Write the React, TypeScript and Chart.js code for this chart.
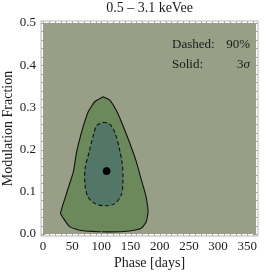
import React, { useEffect, useRef } from "react";
import { Chart, registerables } from "chart.js";

Chart.register(...registerables);

const titleText = "0.5 \u2013 3.1 keVee";
const xTitle = "Phase [days]";
const yTitle = "Modulation Fraction";
const xTicks = [0, 50, 100, 150, 200, 250, 300, 350];
const yTicks = [0.0, 0.1, 0.2, 0.3, 0.4, 0.5];

// outer (solid, 3 sigma) contour: [phase, fraction]
const outerX = [103, 114, 126, 137, 148, 160, 168, 176, 180, 177, 168, 148, 109, 63, 46, 35, 30, 37.5, 43, 52, 57.5, 66, 77, 89, 103];
const outerY = [0.325, 0.318, 0.292, 0.257, 0.218, 0.171, 0.131, 0.092, 0.053, 0.029, 0.013, 0.007, 0.005, 0.009, 0.017, 0.037, 0.049, 0.084, 0.108, 0.147, 0.194, 0.241, 0.288, 0.314, 0.325];

// inner (dashed, 90%) contour
const innerX = [103, 114, 123, 131, 136, 137, 134, 123, 106, 89, 77, 72, 72, 79, 86, 92, 103];
const innerY = [0.265, 0.261, 0.241, 0.202, 0.163, 0.123, 0.092, 0.072, 0.067, 0.072, 0.088, 0.116, 0.155, 0.194, 0.233, 0.257, 0.265];

const bestX = [109];
const bestY = [0.149];

const legendLines = [
  { label: "Dashed:", value: "90%" },
  { label: "Solid:", value: "3\u03c3" },
];

const SERIF = "'Liberation Serif', 'Times New Roman', serif";
const BG = "#989f86";
const OUTER = "#6b895b";
const INNER = "#527768";

const pts = (xs: number[], ys: number[]) => xs.map((x, i) => ({ x, y: ys[i] }));

const decorPlugin = {
  id: "decor",
  beforeDatasetsDraw(chart: any) {
    const { ctx, chartArea: a } = chart;
    ctx.save();
    ctx.fillStyle = BG;
    ctx.fillRect(a.left, a.top, a.right - a.left, a.bottom - a.top);
    ctx.restore();
  },
  afterDraw(chart: any) {
    const { ctx, chartArea: a, scales } = chart;
    const xs = scales.x;
    const ys = scales.y;
    ctx.save();
    const g = 2.5;
    ctx.strokeStyle = "#b5b5b5";
    ctx.lineWidth = 1;
    ctx.strokeRect(a.left - g + 0.5, a.top - g + 0.5, a.right - a.left + 2 * g - 1, a.bottom - a.top + 2 * g - 1);
    ctx.strokeStyle = "#9a9a9a";
    ctx.beginPath();
    for (let v = 0; v <= 360; v += 10) {
      const px = Math.round(xs.getPixelForValue(v)) + 0.5;
      const len = v % 50 === 0 ? 4 : 2.5;
      ctx.moveTo(px, a.bottom + g - 1);
      ctx.lineTo(px, a.bottom + g - 1 - len);
      ctx.moveTo(px, a.top - g + 1);
      ctx.lineTo(px, a.top - g + 1 + len);
    }
    for (let k = 0; k <= 25; k++) {
      const v = k * 0.02;
      const py = Math.round(ys.getPixelForValue(v)) + 0.5;
      const len = k % 5 === 0 ? 4 : 2.5;
      ctx.moveTo(a.left - g + 1, py);
      ctx.lineTo(a.left - g + 1 + len, py);
      ctx.moveTo(a.right + g - 1, py);
      ctx.lineTo(a.right + g - 1 - len, py);
    }
    ctx.stroke();
    ctx.fillStyle = "#1a1a1a";
    ctx.font = `14px ${SERIF}`;
    ctx.textAlign = "center";
    ctx.textBaseline = "middle";
    ctx.fillText(titleText, (a.left + a.right) / 2, 8);
    ctx.font = `13px ${SERIF}`;
    ctx.textBaseline = "alphabetic";
    legendLines.forEach((l, i) => {
      const by = a.top + 25 + i * 20;
      ctx.textAlign = "left";
      ctx.fillText(l.label, a.left + 129, by);
      ctx.textAlign = "right";
      if (l.value.endsWith("\u03c3")) {
        ctx.font = `italic 13px ${SERIF}`;
        const sw = ctx.measureText("\u03c3").width;
        ctx.fillText("\u03c3", a.right - 6, by);
        ctx.font = `13px ${SERIF}`;
        ctx.fillText(l.value.slice(0, -1), a.right - 6 - sw, by);
      } else {
        ctx.fillText(l.value, a.right - 6, by);
      }
    });
    ctx.restore();
  },
};

export default function App() {
  const ref = useRef<HTMLCanvasElement | null>(null);
  useEffect(() => {
    if (!ref.current) return;
    const chart = new Chart(ref.current, {
      type: "scatter",
      data: {
        datasets: [
          {
            data: pts(bestX, bestY),
            pointRadius: 3.5,
            pointBackgroundColor: "#000",
            pointBorderColor: "#000",
            showLine: false,
          } as any,
          {
            data: pts(innerX, innerY),
            showLine: true,
            fill: "shape",
            backgroundColor: INNER,
            borderColor: "#111",
            borderWidth: 1.1,
            borderDash: [4, 2.5],
            pointRadius: 0,
            tension: 0.3,
          } as any,
          {
            data: pts(outerX, outerY),
            showLine: true,
            fill: "shape",
            backgroundColor: OUTER,
            borderColor: "#111",
            borderWidth: 1.1,
            pointRadius: 0,
            tension: 0.15,
          } as any,
        ],
      },
      options: {
        animation: false,
        responsive: true,
        maintainAspectRatio: false,
        layout: { padding: { top: 23, right: 21, left: 0, bottom: 0 } },
        plugins: { legend: { display: false }, tooltip: { enabled: false } },
        scales: {
          x: {
            type: "linear",
            min: 0,
            max: 365,
            afterBuildTicks: (s: any) => {
              s.ticks = xTicks.map((v) => ({ value: v }));
            },
            afterFit: (s: any) => {
              s.height = 40;
            },
            grid: { display: false, drawTicks: false },
            border: { display: false },
            ticks: {
              padding: 5,
              maxRotation: 0,
              autoSkip: false,
              color: "#1a1a1a",
              font: { family: SERIF, size: 13 },
              callback: (v: any) => String(v),
            },
            title: {
              display: true,
              text: xTitle,
              color: "#1a1a1a",
              font: { family: SERIF, size: 14 },
              padding: { top: 0, bottom: 2 },
            },
          },
          y: {
            type: "linear",
            min: 0,
            max: 0.5,
            afterBuildTicks: (s: any) => {
              s.ticks = yTicks.map((v) => ({ value: v }));
            },
            afterFit: (s: any) => {
              s.width = 43;
            },
            grid: { display: false, drawTicks: false },
            border: { display: false },
            ticks: {
              padding: 7,
              autoSkip: false,
              color: "#1a1a1a",
              font: { family: SERIF, size: 13 },
              callback: (v: any) => Number(v).toFixed(1),
            },
            title: {
              display: true,
              text: yTitle,
              color: "#1a1a1a",
              font: { family: SERIF, size: 14 },
              padding: { top: 0, bottom: 0 },
            },
          },
        },
      },
      plugins: [decorPlugin],
    });
    return () => chart.destroy();
  }, []);
  return (
    <div style={{ position: "fixed", left: 0, top: 0, width: 277, height: 274, background: "#fff" }}>
      <canvas ref={ref} />
    </div>
  );
}
